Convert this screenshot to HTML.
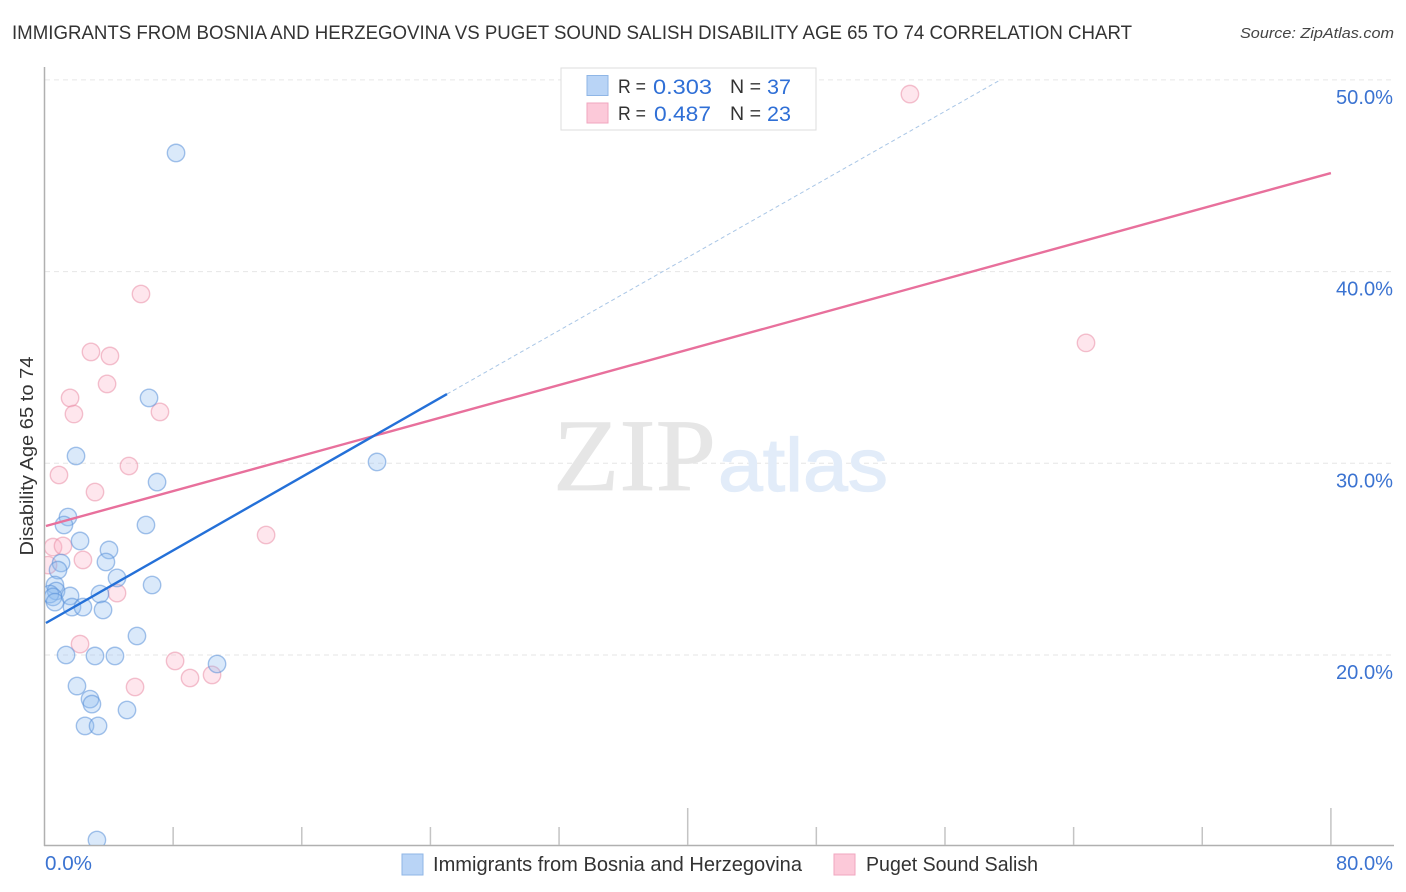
<!DOCTYPE html>
<html>
<head>
<meta charset="utf-8">
<title>Correlation chart</title>
<style>
html,body{margin:0;padding:0;background:#fff;width:1406px;height:892px;overflow:hidden}
svg{display:block;font-family:"Liberation Sans",sans-serif}
</style>
</head>
<body>
<svg id="chart" xmlns="http://www.w3.org/2000/svg" width="1406" height="892" viewBox="0 0 1406 892">
<defs><clipPath id="plot-clip"><rect x="45" y="60" width="1350" height="785"></rect></clipPath></defs>
<text x="12" y="39" font-size="19" fill="#333" textLength="1120" lengthAdjust="spacingAndGlyphs">IMMIGRANTS FROM BOSNIA AND HERZEGOVINA VS PUGET SOUND SALISH DISABILITY AGE 65 TO 74 CORRELATION CHART</text>
<text x="1394" y="38" font-size="15" font-style="italic" fill="#444" text-anchor="end" textLength="154" lengthAdjust="spacingAndGlyphs">Source: ZipAtlas.com</text>
<g id="grid"></g>
<g>
<text x="553" y="490" font-family="'Liberation Serif',serif" font-size="103" fill="#e6e6e6" stroke="#e6e6e6" stroke-width="0.8" textLength="163" lengthAdjust="spacingAndGlyphs">ZIP</text>
<text x="718" y="491" font-size="75" fill="#e2ecf9" stroke="#e2ecf9" stroke-width="1.2" textLength="170" lengthAdjust="spacingAndGlyphs">atlas</text>
</g>
<g id="axes"></g>
<g id="points" clip-path="url(#plot-clip)"></g>
<g id="trends"></g>
<g id="labels"></g>
<text transform="translate(33 456) rotate(-90)" font-size="18.5" fill="#333" text-anchor="middle" textLength="199" lengthAdjust="spacingAndGlyphs">Disability Age 65 to 74</text>
<g>
<rect x="561" y="68" width="255" height="62" fill="#fff" stroke="#ddd" stroke-width="1"></rect>
<rect x="587" y="75.5" width="21" height="20" fill="#b9d4f6" stroke="#8fb6e6" stroke-width="1"></rect>
<rect x="587" y="103" width="21" height="20" fill="#fcc9d9" stroke="#f0a6bf" stroke-width="1"></rect>
<text x="618" y="93" font-size="19.5" fill="#333" textLength="28" lengthAdjust="spacingAndGlyphs">R =</text>
<text x="653" y="94" font-size="21.5" fill="#2f6fd6" textLength="59" lengthAdjust="spacingAndGlyphs">0.303</text>
<text x="730" y="93" font-size="19.5" fill="#333" textLength="31" lengthAdjust="spacingAndGlyphs">N =</text>
<text x="767" y="94" font-size="21.5" fill="#2f6fd6" textLength="24" lengthAdjust="spacingAndGlyphs">37</text>
<text x="618" y="120" font-size="19.5" fill="#333" textLength="28" lengthAdjust="spacingAndGlyphs">R =</text>
<text x="654" y="121" font-size="21.5" fill="#2f6fd6" textLength="57" lengthAdjust="spacingAndGlyphs">0.487</text>
<text x="730" y="120" font-size="19.5" fill="#333" textLength="31" lengthAdjust="spacingAndGlyphs">N =</text>
<text x="767" y="121" font-size="21.5" fill="#2f6fd6" textLength="24" lengthAdjust="spacingAndGlyphs">23</text>
</g>
<g>
<rect x="402" y="854" width="21" height="21" fill="#b9d4f6" stroke="#8fb6e6" stroke-width="1"></rect>
<text x="433" y="871" font-size="20" fill="#333" textLength="369" lengthAdjust="spacingAndGlyphs">Immigrants from Bosnia and Herzegovina</text>
<rect x="834" y="854" width="21" height="21" fill="#fcc9d9" stroke="#f0a6bf" stroke-width="1"></rect>
<text x="866" y="871" font-size="20" fill="#333" textLength="172" lengthAdjust="spacingAndGlyphs">Puget Sound Salish</text>
</g>
</svg>
<script>
const xTickValues = [0, 8, 16, 24, 32, 40, 48, 56, 64, 72, 80];
const xTickMajor = [0, 40, 80];
const xLabelValues = [0, 80];
const xLabelText = ['0.0%', '80.0%'];
const yTickValues = [20, 30, 40, 50];
const yTickLabels = ['20.0%', '30.0%', '40.0%', '50.0%'];
const blueX = [8.18,6.50,1.96,7.00,20.68,6.31,1.46,1.21,2.21,4.01,3.82,1.03,0.84,4.51,6.69,0.65,0.72,0.34,0.53,0.65,1.59,1.71,2.39,3.45,3.64,5.75,1.34,3.14,4.38,10.73,2.02,2.83,2.95,5.13,2.52,3.33,3.26];
const blueY = [46.19,33.41,30.38,29.02,30.07,26.78,27.20,26.78,25.95,25.48,24.85,24.80,24.43,24.02,23.65,23.65,23.34,23.18,23.03,22.76,23.08,22.50,22.50,23.18,22.35,20.99,20.00,19.95,19.95,19.53,18.38,17.70,17.44,17.13,16.30,16.30,10.35];
const pinkX = [53.82,6.00,2.89,4.07,3.89,1.59,1.83,7.18,5.25,0.90,3.14,13.78,64.77,0.53,1.15,2.39,0.22,4.51,2.21,8.12,5.63,9.05,10.42];
const pinkY = [49.26,38.83,35.81,35.60,34.14,33.41,32.57,32.68,29.86,29.39,28.50,26.26,36.28,25.63,25.69,24.96,24.69,23.23,20.57,19.69,18.33,18.80,18.96];
const blueTrendX = [0.09, 25.03];
const blueTrendY = [21.67, 33.61];
const blueExtX = [25.03, 59.42];
const blueExtY = [33.61, 49.99];
const pinkTrendX = [0.09, 80];
const pinkTrendY = [26.73, 45.14];

const NS = 'http://www.w3.org/2000/svg';
function xScale(v) { return 44.5 + v * 16.08; }
function yScale(v) { return 655 - (v - 20) * 19.17; }
function make(tag, parent, attrs, text) {
  const el = document.createElementNS(NS, tag);
  for (const k in attrs) el.setAttribute(k, attrs[k]);
  if (text !== undefined) el.textContent = text;
  parent.appendChild(el);
  return el;
}
const gridG = document.getElementById('grid');
const axesG = document.getElementById('axes');
const pointsG = document.getElementById('points');
const trendsG = document.getElementById('trends');
const labelsG = document.getElementById('labels');

yTickValues.forEach(function (v) {
  const g = make('line', gridG, {x1: 45, x2: 1394, y1: yScale(v), y2: yScale(v), stroke: '#e6e6e6', 'stroke-width': 1, 'stroke-dasharray': '5 4'});
  
  
});
const yAxis = make('line', axesG, {x1: 44.5, x2: 44.5, y1: 67, y2: 846, stroke: '#b0b0b0', 'stroke-width': 1.5});


const xAxis = make('line', axesG, {x1: 44, x2: 1394, y1: 845.5, y2: 845.5, stroke: '#b0b0b0', 'stroke-width': 1.5});


xTickValues.forEach(function (v) {
  if (v === 0) return;
  const top = xTickMajor.indexOf(v) >= 0 ? 808 : 827;
  const t = make('line', axesG, {x1: xScale(v), x2: xScale(v), y1: top, y2: 845, stroke: '#c4c4c4', 'stroke-width': 1.5});
  
  
});

function drawPoints(xs, ys, fill, stroke, name) {
  xs.forEach(function (x, i) {
    const c = make('circle', pointsG, {cx: xScale(x), cy: yScale(ys[i]), r: 8.7, fill: fill, 'fill-opacity': 0.32, stroke: stroke, 'stroke-opacity': 0.55, 'stroke-width': 1.4});
    
    
  });
}
drawPoints(pinkX, pinkY, '#fbb0c8', '#e98fa8', 'point-puget-sound-salish');
drawPoints(blueX, blueY, '#8dbcf0', '#5b92d8', 'point-immigrants-bosnia');

const blueExt = make('line', trendsG, {x1: xScale(blueExtX[0]), y1: yScale(blueExtY[0]), x2: xScale(blueExtX[1]), y2: yScale(blueExtY[1]), stroke: '#a9c6e6', 'stroke-width': 1, 'stroke-dasharray': '4 3'});


const pinkLine = make('line', trendsG, {x1: xScale(pinkTrendX[0]), y1: yScale(pinkTrendY[0]), x2: xScale(pinkTrendX[1]), y2: yScale(pinkTrendY[1]), stroke: '#e8709c', 'stroke-width': 2.4});


const blueLine = make('line', trendsG, {x1: xScale(blueTrendX[0]), y1: yScale(blueTrendY[0]), x2: xScale(blueTrendX[1]), y2: yScale(blueTrendY[1]), stroke: '#2470d8', 'stroke-width': 2.4});



yTickValues.forEach(function (v, i) {
  const t = make('text', labelsG, {x: 1393, y: yScale(v) + 24, 'font-size': 20, fill: '#3b73d1', 'text-anchor': 'end', textLength: 57, lengthAdjust: 'spacingAndGlyphs'}, yTickLabels[i]);
  
  
});
xLabelValues.forEach(function (v, i) {
  const last = i === xLabelValues.length - 1;
  const t = make('text', labelsG, {x: last ? 1393 : xScale(v) + 0.5, y: 870, 'font-size': 20, fill: '#3b73d1', 'text-anchor': last ? 'end' : 'start', textLength: last ? 57 : 47, lengthAdjust: 'spacingAndGlyphs'}, xLabelText[i]);
  
  
});
</script>
</body>
</html>
